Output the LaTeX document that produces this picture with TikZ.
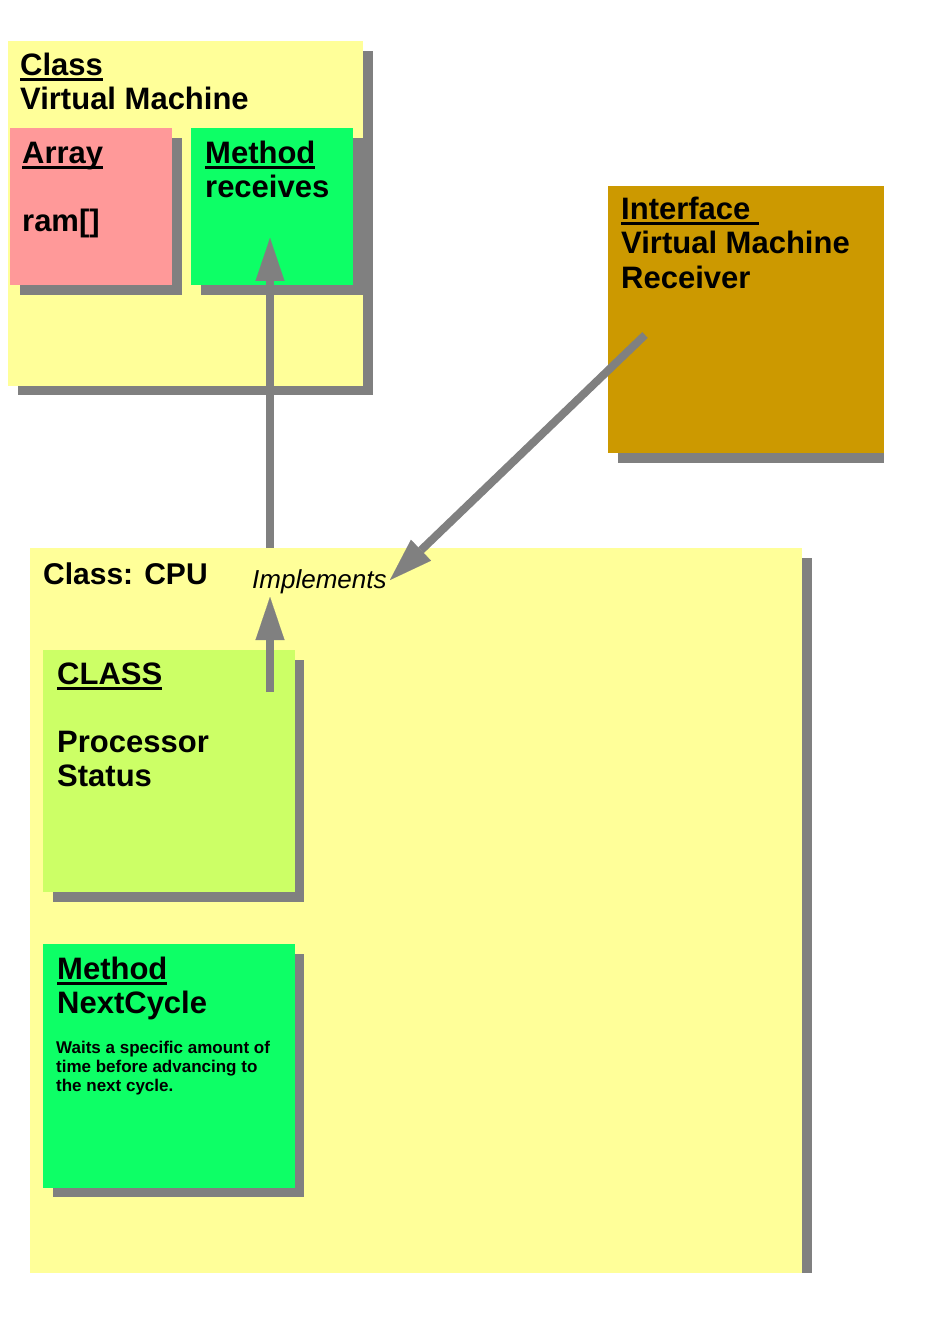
\documentclass[tikz,border=0pt]{standalone}
\usepackage{fontspec}
\setmainfont{Liberation Sans}
\usetikzlibrary{arrows.meta}
\definecolor{pyellow}{HTML}{FFFF99}
\definecolor{ppink}{HTML}{FF9999}
\definecolor{pgreen}{HTML}{0DFF66}
\definecolor{plime}{HTML}{CCFF66}
\definecolor{pgold}{HTML}{CC9900}
\definecolor{sgray}{HTML}{808080}
\newsavebox{\myulbox}
\newcommand\myul[1]{\sbox{\myulbox}{#1}\rlap{\rule[-5.5pt]{\wd\myulbox}{3pt}}\usebox{\myulbox}}
\tikzset{
  boxnode/.style={rectangle, anchor=north west, inner sep=0pt, outer sep=0pt, draw=none},
  shadowfill/.style={fill=sgray},
  bigtxt/.style={anchor=base west, inner sep=0pt, font=\bfseries\fontsize{31}{34}\selectfont},
  smalltxt/.style={anchor=base west, inner sep=0pt, font=\bfseries\fontsize{17}{19}\selectfont},
  impltxt/.style={anchor=base west, inner sep=0pt, font=\itshape\fontsize{26}{30}\selectfont},
  conn/.style={draw=sgray, line width=8pt, -{Triangle[length=43pt,width=29pt,line width=0.1pt]}}
}
\begin{document}
\begin{tikzpicture}[x=1pt,y=-1pt]
\useasboundingbox (0,0) rectangle (934,1321);
\fill[white] (0,0) rectangle (934,1321);
% shadows
\fill[shadowfill] (18,51) rectangle (373,395);
\fill[shadowfill] (618,196) rectangle (884,463);
\fill[shadowfill] (40,558) rectangle (812,1273);
% Virtual Machine class
\node[boxnode, fill=pyellow, minimum width=355pt, minimum height=345pt] (vm) at (8,41) {};
\fill[shadowfill] (20,138) rectangle (182,295);
\fill[shadowfill] (201,138) rectangle (363,295);
\node[boxnode, fill=ppink, minimum width=162pt, minimum height=157pt] (arr) at (10,128) {};
\node[boxnode, fill=pgreen, minimum width=162pt, minimum height=157pt] (rec) at (191,128) {};
% Interface
\node[boxnode, fill=pgold, minimum width=276pt, minimum height=267pt] (ifc) at (608,186) {};
% CPU
\node[boxnode, fill=pyellow, minimum width=772pt, minimum height=725pt] (cpu) at (30,548) {};
\fill[shadowfill] (53,660) rectangle (304,902);
\fill[shadowfill] (53,954) rectangle (304,1197);
\node[boxnode, fill=plime, minimum width=252pt, minimum height=242pt] (cls) at (43,650) {};
\node[boxnode, fill=pgreen, minimum width=252pt, minimum height=244pt] (nc) at (43,944) {};
% texts
\node[bigtxt] (t1) at (20,76) {\myul{Class}};
\node[bigtxt] (t2) at (20,110) {Virtual Machine};
\node[bigtxt] (t3) at (22,164) {\myul{Array}};
\node[bigtxt] (t4) at (22,232) {ram[]};
\node[bigtxt] (t5) at (205,164) {\myul{Method}};
\node[bigtxt] (t6) at (205,198) {receives};
\node[bigtxt] (t7) at (621,220) {\myul{Interface\ }};
\node[bigtxt] (t8) at (621,254) {Virtual Machine};
\node[bigtxt] (t9) at (621,288) {Receiver};
\node[bigtxt, font=\bfseries\fontsize{30}{34}\selectfont] (t10) at (43,584) {Class: CPU};
\node[impltxt] (impl) at (252,588) {Implements};
\node[bigtxt] (t11) at (57,684) {\myul{CLASS}};
\node[bigtxt] (t12) at (57,752) {Processor};
\node[bigtxt] (t13) at (57,786) {Status};
\node[bigtxt] (t14) at (57,979) {\myul{Method}};
\node[bigtxt] (t15) at (57,1013) {NextCycle};
\node[smalltxt] (t16) at (56,1053) {Waits a specific amount of};
\node[smalltxt] (t17) at (56,1072) {time before advancing to};
\node[smalltxt] (t18) at (56,1091) {the next cycle.};
% connectors
\coordinate (a1s) at (270,548);
\coordinate (a1e) at (270,238);
\coordinate (a2s) at (270,692);
\coordinate (a2e) at (270,597);
\coordinate (a3s) at (645,335);
\coordinate (a3e) at (390,580);
\draw[conn] (a1s) -- (a1e);
\draw[conn] (a2s) -- (a2e);
\draw[conn] (a3s) -- (a3e);
\end{tikzpicture}
\end{document}
